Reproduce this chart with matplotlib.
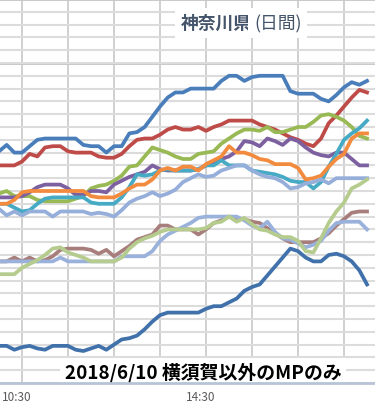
import numpy as np
import matplotlib.pyplot as plt
import matplotlib.transforms as mtransforms

plt.rcParams['font.family'] = ['Noto Sans CJK JP', 'DejaVu Sans']

# time of day in minutes, 10:00 .. 18:00 every 10 min
minutes = np.arange(600, 1081, 10)

blue = [18.1, 18.6, 18.0, 18.0, 18.5, 19.0, 19.1, 19.1, 19.1, 19.1,
        19.1, 18.6, 18.5, 18.5, 18.0, 18.5, 18.5, 19.5, 19.6, 20.0,
        20.8, 21.6, 22.3, 22.7, 22.7, 23.0, 23.0, 23.0, 23.0, 23.6,
        24.0, 24.0, 23.6, 23.9, 24.0, 24.0, 24.0, 24.0, 22.8, 22.6,
        22.6, 22.6, 22.2, 22.0, 22.5, 23.1, 23.5, 23.3, 23.6]
red = [17.0, 17.0, 17.0, 17.3, 17.9, 17.7, 18.4, 18.5, 18.5, 18.1,
       18.0, 18.0, 18.0, 17.7, 17.6, 17.6, 17.9, 18.5, 19.0, 19.1,
       19.1, 19.4, 19.8, 20.0, 19.8, 19.8, 20.0, 19.7, 20.0, 20.2,
       20.5, 20.5, 20.5, 20.5, 20.2, 20.0, 19.8, 19.5, 19.2, 19.0,
       18.7, 18.5, 19.1, 20.3, 20.9, 21.6, 22.3, 22.9, 22.7]
green = [14.8, 15.0, 14.6, 14.6, 14.6, 14.3, 14.2, 14.2, 14.2, 14.2,
         14.4, 14.6, 15.2, 15.4, 15.5, 15.8, 16.2, 16.9, 17.0, 17.7,
         18.4, 18.2, 18.0, 17.7, 17.5, 17.5, 17.9, 18.0, 18.1, 18.7,
         19.1, 19.5, 19.8, 19.8, 19.7, 20.0, 19.6, 19.6, 19.8, 20.0,
         20.0, 20.4, 20.9, 21.0, 20.8, 20.5, 20.0, 19.3, 19.1]
purple = [14.5, 14.5, 14.5, 14.6, 14.9, 15.3, 15.5, 15.5, 15.5, 15.2,
          14.7, 14.7, 15.0, 15.0, 14.9, 15.5, 15.8, 16.1, 16.3, 16.5,
          17.0, 16.7, 16.6, 16.6, 16.6, 16.6, 16.7, 17.0, 17.1, 17.5,
          17.7, 18.1, 18.9, 18.8, 18.5, 19.1, 18.9, 18.6, 19.1, 18.9,
          18.4, 18.0, 17.8, 17.7, 18.0, 18.0, 17.5, 17.0, 17.0]
teal = [14.0, 14.0, 13.7, 13.4, 13.5, 14.0, 14.4, 14.5, 14.5, 14.5,
        14.5, 14.5, 14.1, 14.0, 14.0, 14.0, 14.5, 15.3, 16.3, 16.2,
        16.3, 16.6, 16.7, 16.6, 16.6, 16.6, 16.7, 17.0, 17.0, 17.4,
        17.0, 17.0, 17.0, 16.6, 16.5, 16.4, 16.3, 16.1, 15.8, 15.7,
        15.7, 15.2, 15.7, 16.9, 17.9, 19.0, 19.5, 19.9, 20.5]
orange = [14.0, 14.0, 14.3, 14.9, 15.0, 15.0, 15.0, 15.0, 15.0, 15.0,
          15.0, 15.0, 14.6, 14.5, 14.5, 14.5, 14.8, 15.2, 15.5, 15.5,
          15.9, 16.6, 16.8, 16.6, 16.9, 16.9, 16.6, 17.1, 17.4, 17.7,
          18.5, 18.0, 18.0, 17.8, 17.5, 17.4, 17.1, 17.1, 17.1, 16.8,
          15.9, 16.0, 16.2, 16.9, 17.5, 17.9, 19.1, 19.5, 19.5]
lightblue = [13.6, 13.1, 13.4, 13.1, 13.4, 13.4, 13.4, 13.0, 13.4, 13.4,
             13.4, 13.4, 13.2, 13.3, 13.2, 13.0, 13.5, 14.1, 14.4, 14.6,
             14.9, 14.6, 14.8, 15.1, 15.7, 16.0, 16.3, 16.1, 16.2, 16.6,
             16.8, 17.0, 17.0, 16.6, 16.3, 16.1, 16.0, 15.7, 15.2, 15.3,
             15.6, 15.7, 15.9, 15.6, 16.0, 16.0, 16.0, 16.0, 16.0]
navy = [2.9, 2.9, 2.6, 2.8, 2.9, 2.7, 2.6, 2.9, 2.9, 2.9,
        2.6, 2.5, 2.7, 2.9, 2.6, 3.0, 3.4, 3.5, 3.7, 4.2,
        4.8, 5.3, 5.5, 5.5, 5.5, 5.5, 5.5, 5.8, 6.0, 6.0,
        6.3, 6.6, 7.2, 7.5, 7.7, 8.4, 9.1, 9.8, 10.5, 10.3,
        9.8, 9.5, 9.5, 10.0, 10.1, 9.9, 9.5, 8.8, 7.7]
mauve = [9.5, 9.5, 9.8, 9.5, 9.8, 9.5, 9.6, 9.9, 10.4, 10.5,
         10.5, 10.5, 10.4, 10.1, 10.4, 9.9, 10.3, 10.7, 11.2, 11.4,
         11.6, 12.3, 12.3, 12.0, 12.0, 12.0, 11.6, 12.0, 12.5, 12.7,
         13.0, 12.8, 12.8, 12.6, 12.5, 12.1, 11.7, 11.3, 11.0, 11.0,
         11.0, 11.0, 11.3, 11.7, 12.3, 12.8, 13.3, 13.4, 13.4]
paleblue = [9.5, 9.5, 9.5, 9.5, 9.5, 9.5, 9.5, 9.5, 9.8, 9.5,
            9.5, 9.5, 9.5, 9.5, 9.5, 9.5, 9.9, 9.9, 9.9, 9.9,
            10.3, 11.1, 11.6, 11.9, 12.2, 12.5, 12.9, 13.0, 13.0, 13.0,
            13.0, 13.0, 12.7, 12.3, 12.1, 12.6, 11.8, 11.3, 11.2, 10.9,
            10.6, 10.8, 11.1, 11.9, 12.5, 12.6, 12.6, 12.6, 12.0]
palegreen = [8.5, 8.5, 8.5, 9.0, 9.3, 9.6, 10.0, 10.5, 10.6, 10.2,
             10.0, 9.8, 9.5, 9.5, 9.5, 9.5, 9.8, 10.5, 11.0, 11.3,
             11.5, 11.8, 12.0, 12.0, 12.0, 12.0, 12.0, 12.1, 12.5, 12.6,
             13.0, 12.6, 12.9, 12.4, 12.0, 11.9, 11.6, 11.4, 11.4, 11.1,
             10.3, 10.2, 11.3, 12.5, 13.4, 14.1, 15.2, 15.5, 15.9]

series = [
    (blue, "#4a7ebb"), (red, "#be4b48"), (green, "#98b954"),
    (purple, "#7d60a0"), (teal, "#46aac5"), (orange, "#f38b3e"),
    (lightblue, "#95aeda"), (navy, "#4171ab"), (mauve, "#a77e7c"),
    (paleblue, "#9ab2db"), (palegreen, "#b5cc8e"),
]

fig = plt.figure(figsize=(3.75, 4.06), dpi=100)
ax = fig.add_axes([0, 22 / 406, 1, 384 / 406])

for vals, col in series:
    ax.plot(minutes, vals, color=col, lw=2.7, solid_joinstyle="round", zorder=3)

ax.set_xlim(601.3, 1090.4)
ax.set_ylim(0, 30)

ax.set_yticks(np.arange(0, 31, 1))
ax.set_yticklabels([])
ax.set_xticks(np.arange(630, 1091, 60))
ax.set_xticklabels(["10:30", "", "", "", "14:30", "", "", ""])
ax.tick_params(length=0, labelsize=8.5, colors="#595959", pad=5)
shift = mtransforms.ScaledTranslation(-5 / 100, 0, fig.dpi_scale_trans)
for lbl in ax.get_xticklabels():
    lbl.set_transform(lbl.get_transform() + shift)

ax.grid(axis="y", color="#dcdcdc", lw=1.5, zorder=0)
ax.grid(axis="x", color="#c8c8c8", lw=1.2, zorder=0)
ax.axhline(25, color="#c4c4c4", lw=2, zorder=1)
ax.axhline(30, color="#c4c4c4", lw=2, zorder=1)

for s in ["left", "right", "top"]:
    ax.spines[s].set_visible(False)
ax.spines["bottom"].set_color("#b7c3d6")
ax.spines["bottom"].set_linewidth(2)
ax.spines["bottom"].set_zorder(6)

ax.text(252 / 375, 1 - 24 / 384, "神奈川県", transform=ax.transAxes,
        ha="right", va="center", fontsize=12.8, fontweight="bold", color="#44546a",
        bbox=dict(facecolor="white", edgecolor="none", pad=4), zorder=5)
ax.text(254 / 375, 1 - 24 / 384, "(日間)", transform=ax.transAxes,
        ha="left", va="center", fontsize=12.8, color="#44546a",
        bbox=dict(facecolor="white", edgecolor="none", pad=4), zorder=5)

ax.text(203 / 375, (384 - 373) / 384, "2018/6/10 横須賀以外のMPのみ",
        transform=ax.transAxes, ha="center", va="center", fontsize=13.6,
        fontweight="bold", color="black",
        bbox=dict(facecolor="white", edgecolor="none", pad=3), zorder=5)

fig.savefig("out.png", dpi=100)
